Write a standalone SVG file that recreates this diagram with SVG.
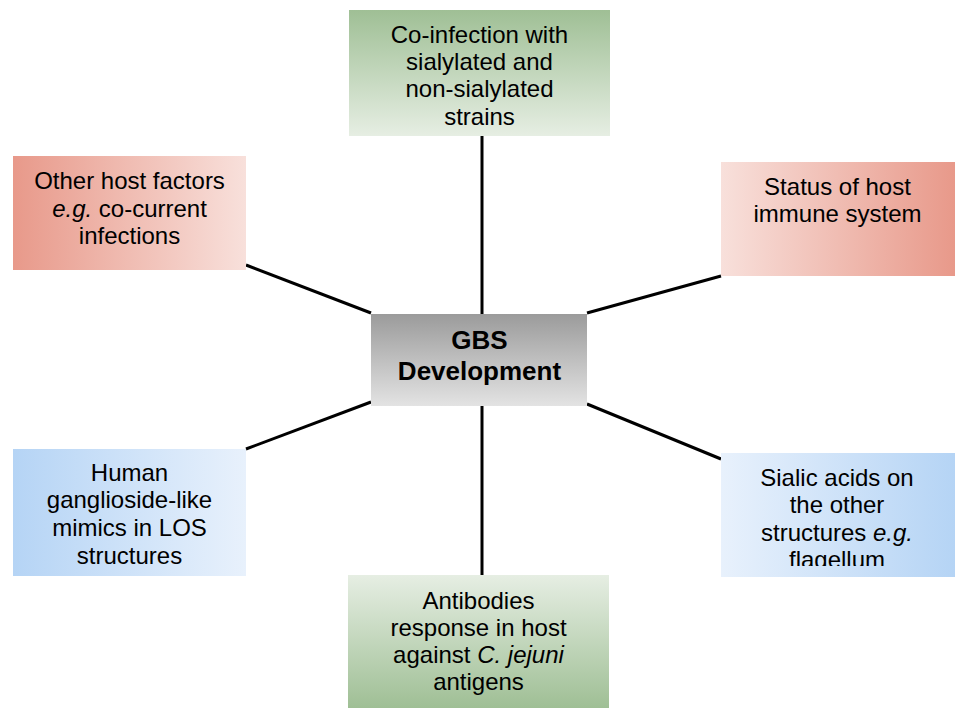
<svg xmlns="http://www.w3.org/2000/svg" width="955" height="708" viewBox="0 0 955 708">
<defs>
<linearGradient id="gTop" x1="0" y1="0" x2="0" y2="1"><stop offset="0" stop-color="#9fbf95"/><stop offset="1" stop-color="#e6eee3"/></linearGradient>
<linearGradient id="gBot" x1="0" y1="0" x2="0" y2="1"><stop offset="0" stop-color="#e6eee3"/><stop offset="1" stop-color="#9fbf95"/></linearGradient>
<linearGradient id="rL" x1="0" y1="0" x2="1" y2="0"><stop offset="0" stop-color="#e8998a"/><stop offset="1" stop-color="#f8e0db"/></linearGradient>
<linearGradient id="rR" x1="0" y1="0" x2="1" y2="0"><stop offset="0" stop-color="#f8e0db"/><stop offset="1" stop-color="#e8998a"/></linearGradient>
<linearGradient id="bL" x1="0" y1="0" x2="1" y2="0"><stop offset="0" stop-color="#b5d4f5"/><stop offset="1" stop-color="#e8f1fc"/></linearGradient>
<linearGradient id="bR" x1="0" y1="0" x2="1" y2="0"><stop offset="0" stop-color="#e8f1fc"/><stop offset="1" stop-color="#b5d4f5"/></linearGradient>
<linearGradient id="gray" x1="0" y1="0" x2="0" y2="1"><stop offset="0" stop-color="#9b9b9b"/><stop offset="1" stop-color="#e3e3e3"/></linearGradient>
<clipPath id="clipLR"><rect x="721" y="453" width="234" height="113"/></clipPath>
</defs>
<style>
text{font-family:"Liberation Sans",Arial,sans-serif;font-size:24px;fill:#000;text-anchor:middle}
.b{font-weight:bold;font-size:26px}
.c{stroke:#000;stroke-width:3;fill:none}
</style>
<g id="connectors">
<line class="c" x1="482" y1="136" x2="482" y2="314"/>
<line class="c" x1="482" y1="406" x2="482" y2="575"/>
<line class="c" x1="246" y1="265" x2="371" y2="313"/>
<line class="c" x1="587" y1="313" x2="721" y2="276"/>
<line class="c" x1="371" y1="402" x2="246" y2="449"/>
<line class="c" x1="587" y1="404" x2="721" y2="459"/>
</g>
<g id="n-top">
<rect x="349" y="10" width="261" height="126" fill="url(#gTop)"/>
<text x="479.5" y="43">Co-infection with</text>
<text x="479.5" y="70">sialylated and</text>
<text x="479.5" y="97">non-sialylated</text>
<text x="479.5" y="125">strains</text>
</g>
<g id="n-ul">
<rect x="13" y="156" width="233" height="114" fill="url(#rL)"/>
<text x="129.5" y="189">Other host factors</text>
<text x="129.5" y="217"><tspan font-style="italic">e.g.</tspan> co-current</text>
<text x="129.5" y="244">infections</text>
</g>
<g id="n-ur">
<rect x="721" y="162" width="234" height="114" fill="url(#rR)"/>
<text x="837.5" y="195">Status of host</text>
<text x="837.5" y="222">immune system</text>
</g>
<g id="n-center">
<rect x="371" y="314" width="216" height="92" fill="url(#gray)"/>
<text class="b" x="479.5" y="349">GBS</text>
<text class="b" x="479.5" y="380">Development</text>
</g>
<g id="n-ll">
<rect x="13" y="449" width="233" height="127" fill="url(#bL)"/>
<text x="129.5" y="481">Human</text>
<text x="129.5" y="508">ganglioside-like</text>
<text x="129.5" y="536">mimics in LOS</text>
<text x="129.5" y="564">structures</text>
</g>
<g id="n-lr">
<rect x="721" y="453" width="234" height="124" fill="url(#bR)"/>
<g clip-path="url(#clipLR)">
<text x="837" y="486">Sialic acids on</text>
<text x="837" y="513">the other</text>
<text x="837" y="541">structures <tspan font-style="italic">e.g.</tspan></text>
<text x="837" y="568">flagellum</text>
</g>
</g>
<g id="n-bottom">
<rect x="348" y="575" width="261" height="133" fill="url(#gBot)"/>
<text x="478.5" y="609">Antibodies</text>
<text x="478.5" y="636">response in host</text>
<text x="478.5" y="663">against <tspan font-style="italic">C. jejuni</tspan></text>
<text x="478.5" y="690">antigens</text>
</g>
</svg>
